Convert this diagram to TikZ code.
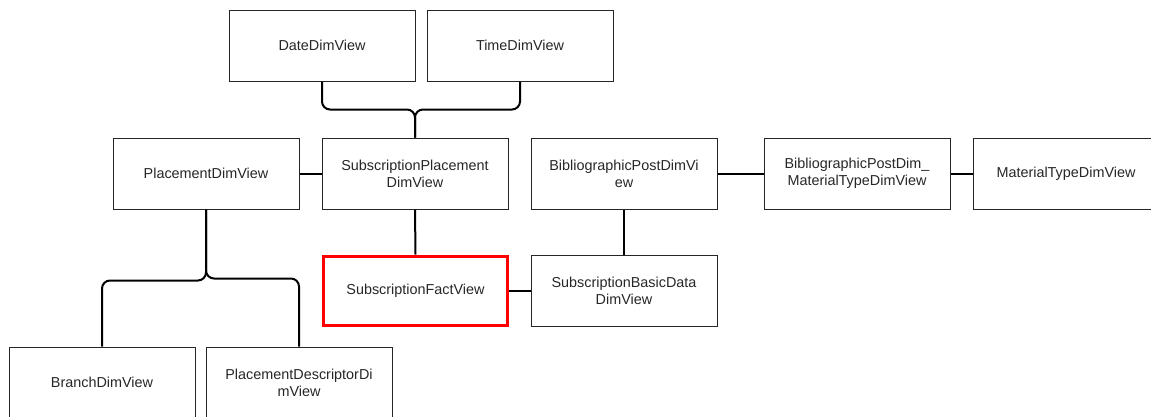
\documentclass[tikz,border=0pt]{standalone}
\usepackage{fontspec}
\setmainfont{Liberation Sans}
\begin{document}
\begin{tikzpicture}[x=1pt,y=-1pt,
  box/.style={draw=black!85, line width=1pt, rectangle, minimum width=186pt, minimum height=71pt,
    inner sep=0pt, align=center, font=\fontsize{14.4}{17}\selectfont, text=black!85},
  factbox/.style={box, draw=red, line width=3pt, minimum width=184pt, minimum height=69pt},
  conn/.style={draw=black, line width=2pt, rounded corners=8pt}]
\useasboundingbox (0,0) rectangle (1151,416);
\clip (0,0) rectangle (1151,416);
\node[box] (date) at (322,45.5) {DateDimView};
\node[box] (time) at (520,45.5) {TimeDimView};
\node[box] (place) at (206,173.5) {PlacementDimView};
\node[box] (subpl) at (415,173.5) {SubscriptionPlacement\\DimView};
\node[box] (bib) at (624,173.5) {BibliographicPostDimVi\\ew};
\node[box] (bibmat) at (857,173.5) {BibliographicPostDim\_\\MaterialTypeDimView};
\node[box] (mat) at (1066,173.5) {MaterialTypeDimView};
\node[factbox] (fact) at (415.5,290.5) {SubscriptionFactView};
\node[box] (basic) at (624,290.5) {SubscriptionBasicData\\DimView};
\node[box] (branch) at (102,382.5) {BranchDimView};
\node[box] (pd) at (299,382.5) {PlacementDescriptorDi\\mView};
\draw[conn] (date.south) -- ++(0,28) -| (subpl.north);
\draw[conn] (time.south) -- ++(0,28) -| (subpl.north);
\draw[conn] (place.south) -- ++(0,71) -| (branch.north);
\draw[conn] (place.south) -- ++(0,69) -| (pd.north);
\draw[conn] (place.east) -- (subpl.west);
\draw[conn] (subpl.south) -- (fact.north);
\draw[conn] (bib.east) -- (bibmat.west);
\draw[conn] (bibmat.east) -- (mat.west);
\draw[conn] (bib.south) -- (basic.north);
\draw[conn] (fact.east) -- (basic.west);
\end{tikzpicture}
\end{document}
